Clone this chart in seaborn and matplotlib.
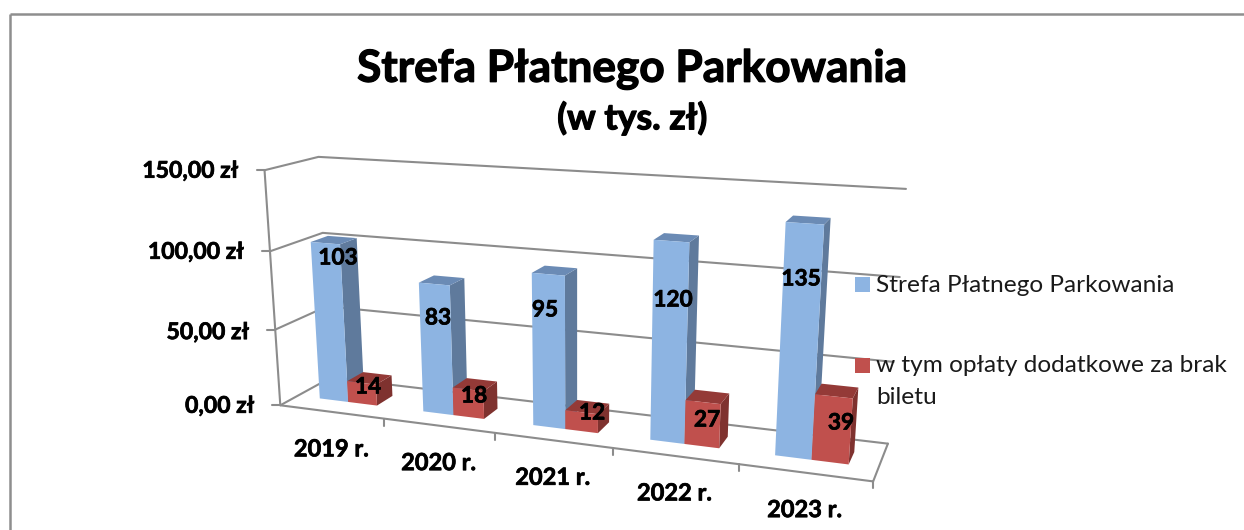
import numpy as np
import pandas as pd
import matplotlib
matplotlib.use("Agg")
import matplotlib.pyplot as plt
import matplotlib.patheffects as pe
from matplotlib.patches import Polygon, Rectangle
from matplotlib.transforms import Transform
import seaborn as sns

years = ["2019 r.", "2020 r.", "2021 r.", "2022 r.", "2023 r."]
parking = [103, 83, 95, 120, 135]
extra_fees = [14, 18, 12, 27, 39]
y_ticks = [0, 50, 100, 150]
y_tick_labels = ["0,00 zł", "50,00 zł", "100,00 zł", "150,00 zł"]
series_names = ["Strefa Płatnego Parkowania", "w tym opłaty dodatkowe za brak\nbiletu"]

BLUE = ["#8DB4E2", "#5F7A9C", "#6B8BB5"]  # front, side, top
RED = ["#C0504D", "#7F322F", "#943A37"]
GRID = "#8C8C8C"
FONT = "Lato"
HEAVY = [pe.withStroke(linewidth=0.5, foreground="black")]
HEAVIER = [pe.withStroke(linewidth=0.9, foreground="black")]

# camera fit: (x, value, depth) -> picture pixel, read from the corners of the box
world = [(-0.5, 0, 0), (4.5, 0, 0), (-0.5, 150, 0), (-0.5, 0, 1),
         (4.5, 0, 1), (-0.5, 150, 1), (4.5, 150, 1)]
pixels = [(280, 405), (873, 482), (265, 170), (331, 378),
          (888, 443), (318, 157), (906, 189)]


def fit_camera(world, pixels):
    rows, rhs = [], []
    for (x, y, z), (u, v) in zip(world, pixels):
        rows.append([x, y, z, 1, 0, 0, 0, 0, -u * x, -u * y, -u * z])
        rows.append([0, 0, 0, 0, x, y, z, 1, -v * x, -v * y, -v * z])
        rhs += [u, v]
    sol = np.linalg.lstsq(np.array(rows, float), np.array(rhs, float), rcond=None)[0]
    return np.append(sol, 1.0).reshape(3, 4)


CAM = fit_camera(world, pixels)


def project(x, y, z):
    p = CAM @ np.array([x, y, z, 1.0])
    return p[0] / p[2], p[1] / p[2]


class Perspective(Transform):
    input_dims = 2
    output_dims = 2

    def __init__(self, z):
        super().__init__()
        self.z = z

    def transform_non_affine(self, values):
        values = np.asarray(values, float)
        pts = np.column_stack([values[:, 0], values[:, 1],
                               np.full(len(values), self.z), np.ones(len(values))])
        p = pts @ CAM.T
        return p[:, :2] / p[:, 2:]


sns.set_theme(style="white")
plt.rcParams["font.family"] = [FONT, "DejaVu Sans"]

df = pd.DataFrame({"rok": years * 2,
                   "wartosc": parking + extra_fees,
                   "seria": [series_names[0]] * 5 + [series_names[1]] * 5})

fig = plt.figure(figsize=(12.44, 5.30), dpi=100)
bg = fig.add_axes([0, 0, 1, 1])
bg.set_xlim(0, 1244)
bg.set_ylim(530, 0)
bg.axis("off")
ax = fig.add_axes([0, 0, 1, 1], sharex=None)
ax.patch.set_alpha(0)

# chart frame, only top and left show in the crop
bg.plot([9.5, 1244], [14, 14], color="#8E8E8E", lw=1.8, solid_capstyle="butt")
bg.plot([9.5, 9.5], [14, 530], color="#8E8E8E", lw=1.8, solid_capstyle="butt")

# walls
for v in y_ticks:
    pts = [project(-0.5, v, 0), project(-0.5, v, 1), project(4.5, v, 1)]
    bg.plot(*zip(*pts), color=GRID, lw=1.5)
pts = [project(-0.5, 150, 0), project(-0.5, 0, 0), project(4.5, 0, 0), project(4.5, 0, 1)]
bg.plot(*zip(*pts), color=GRID, lw=1.5)

for v, lab in zip(y_ticks, y_tick_labels):
    u, w = project(-0.5, v, 0)
    bg.plot([u - 8, u], [w, w], color=GRID, lw=1.5)
    bg.text(u - 26, w + (3 if v == 50 else 1), lab, ha="right", va="center", fontsize=16.6,
            fontweight="bold", color="black", path_effects=HEAVY)

for i in range(len(years)):
    u, w = project(i + 0.5, 0, 0)
    bg.plot([u, u], [w, w + 7], color=GRID, lw=1.5)
    u, w = project(i, 0, 0)
    bg.text(u, w + 37, years[i], ha="center", va="center", fontsize=17,
            fontweight="bold", color="black", path_effects=HEAVY)

sns.barplot(data=df, x="rok", y="wartosc", hue="seria", hue_order=series_names,
            palette=[BLUE[0], RED[0]], saturation=1, width=0.56, gap=0, dodge=True,
            legend=False, ax=ax)
ax.axis("off")

Z0, Z1 = 1 / 3, 2 / 3
front = Perspective(Z0) + bg.transData
for s, (container, cols) in enumerate(zip(ax.containers, [BLUE, RED])):
    for i, bar in enumerate(container):
        base = 10 * i + 3 * s
        x0, x1, h = bar.get_x(), bar.get_x() + bar.get_width(), bar.get_height()
        bar.set_transform(front)
        bar.set_clip_on(False)
        bar.set_zorder(base + 3)
        bar.set_edgecolor("none")
        side = [project(x1, 0, Z0), project(x1, h, Z0), project(x1, h, Z1), project(x1, 0, Z1)]
        top = [project(x0, h, Z0), project(x1, h, Z0), project(x1, h, Z1), project(x0, h, Z1)]
        ax.add_patch(Polygon(side, closed=True, fc=cols[1], ec="none", zorder=base + 1,
                             transform=bg.transData, clip_on=False))
        ax.add_patch(Polygon(top, closed=True, fc=cols[2], ec="none", zorder=base + 2,
                             transform=bg.transData, clip_on=False))

# data labels sit where the chart placed them, not on a fixed rule
blue_label_xy = [(338, 258), (438, 318), (545, 310), (673, 300), (801, 279)]
red_label_xy = [(368, 387), (474, 396), (592, 413), (707, 420), (841, 423)]
for vals, xy in [(parking, blue_label_xy), (extra_fees, red_label_xy)]:
    for val, (u, w) in zip(vals, xy):
        ax.text(u, w, str(val), transform=bg.transData, ha="center", va="center",
                fontsize=16.3, fontweight="bold", color="black", zorder=200, path_effects=HEAVY)

# title
bg.text(632, 69, "Strefa Płatnego Parkowania", ha="center", va="center",
        fontsize=31.8, fontweight="bold", color="black", path_effects=HEAVIER)
bg.text(632, 118, "(w tys. zł)", ha="center", va="center",
        fontsize=25.7, fontweight="bold", color="black", path_effects=HEAVIER)

# legend
ax.add_patch(Rectangle((855, 277), 15, 15, fc=BLUE[0], ec="none", transform=bg.transData,
                       clip_on=False, zorder=210))
ax.add_patch(Rectangle((855, 358), 15, 15, fc=RED[0], ec="none", transform=bg.transData,
                       clip_on=False, zorder=210))
ax.text(876, 285, series_names[0], transform=bg.transData, va="center", fontsize=17.6,
        color="#1A1A1A", zorder=210)
ax.text(876, 365, series_names[1].split("\n")[0], transform=bg.transData, va="center",
        fontsize=17.6, color="#1A1A1A", zorder=210)
ax.text(876, 398, series_names[1].split("\n")[1], transform=bg.transData, va="center",
        fontsize=17.6, color="#1A1A1A", zorder=210)

fig.savefig("out.png", dpi=100)
